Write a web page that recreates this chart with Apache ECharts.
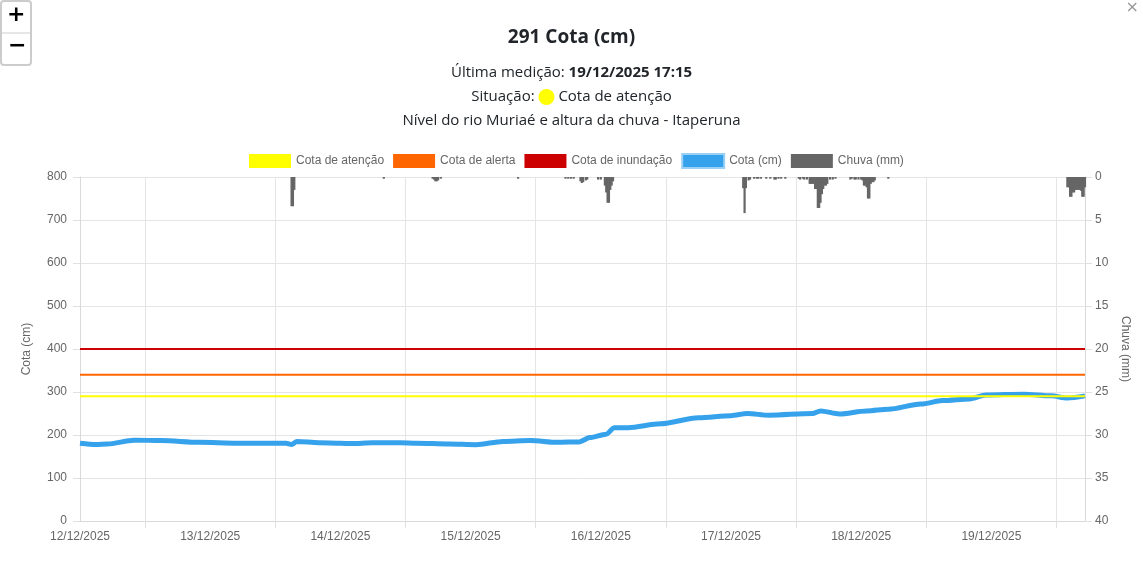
<!DOCTYPE html>
<html>
<head>
<meta charset="utf-8">
<script src="https://cdn.jsdelivr.net/npm/echarts@6/dist/echarts.min.js"></script>
<style>
  html, body { margin: 0; padding: 0; background: #fff; }
  #container { width: 1143px; height: 567px; }
</style>
</head>
<body>
<div id="container"></div>
<script>
// dia em que começa o eixo (12/12/2025 00:00)
var dayLabels = ['12/12/2025', '13/12/2025', '14/12/2025', '15/12/2025',
                 '16/12/2025', '17/12/2025', '18/12/2025', '19/12/2025'];

// cotas de referencia (cm)
var cotaAtencao = 290;
var cotaAlerta = 340;
var cotaInundacao = 400;

// nivel do rio (cm)
var cotaTimes = ['12/12 00:00', '12/12 03:00', '12/12 05:00', '12/12 10:00', '12/12 15:00', '12/12 22:00',
                 '13/12 05:00', '13/12 14:00', '13/12 15:00', '13/12 16:00', '13/12 20:00',
                 '14/12 00:00', '14/12 02:00', '14/12 06:00', '14/12 11:00', '14/12 14:00', '14/12 20:00',
                 '15/12 01:00', '15/12 06:00', '15/12 11:00', '15/12 16:00', '15/12 20:00', '15/12 22:00',
                 '16/12 01:00', '16/12 02:30', '16/12 05:00', '16/12 11:00', '16/12 18:00',
                 '17/12 00:00', '17/12 03:00', '17/12 07:00', '17/12 15:00', '17/12 16:30', '17/12 20:00',
                 '18/12 01:00', '18/12 05:00', '18/12 11:00', '18/12 15:00', '18/12 20:00', '18/12 23:00',
                 '19/12 06:00', '19/12 11:00', '19/12 14:00', '19/12 17:15'];
var cotaValues = [181, 178, 179, 188, 187, 183,
                  181, 181, 178, 185, 182,
                  181, 180, 182, 182, 181, 179,
                  177.5, 185, 187, 183, 184, 194,
                  202, 217, 217, 226, 240,
                  245, 250, 246, 250, 256, 249,
                  256, 260, 272, 280, 284, 293,
                  295, 291, 286, 291];

// chuva (mm)
var chuvaTimes = ['13/12 15:00', '13/12 15:15', '13/12 15:30',
                  '14/12 08:00', '14/12 17:00', '14/12 17:15', '14/12 17:30', '14/12 17:45', '14/12 18:00', '14/12 18:30',
                  '15/12 08:45', '15/12 17:30', '15/12 18:00', '15/12 18:30', '15/12 19:00',
                  '15/12 20:15', '15/12 20:30', '15/12 20:45', '15/12 21:15', '15/12 21:30', '15/12 23:30',
                  '16/12 00:00', '16/12 00:45', '16/12 01:00', '16/12 01:15', '16/12 01:30', '16/12 01:45', '16/12 02:00', '16/12 02:15',
                  '17/12 02:15', '17/12 02:30', '17/12 02:45', '17/12 03:15', '17/12 03:30', '17/12 04:15', '17/12 04:45',
                  '17/12 05:00', '17/12 05:30', '17/12 06:30', '17/12 07:15', '17/12 08:00', '17/12 08:15', '17/12 08:45',
                  '17/12 09:15', '17/12 10:00',
                  '17/12 12:30', '17/12 12:45', '17/12 13:15', '17/12 13:30', '17/12 14:00',
                  '17/12 14:30', '17/12 14:45', '17/12 15:00', '17/12 15:15', '17/12 15:30', '17/12 15:45', '17/12 16:00',
                  '17/12 16:15', '17/12 16:30', '17/12 16:45', '17/12 17:00', '17/12 17:15', '17/12 17:30', '17/12 17:45',
                  '17/12 18:15', '17/12 18:45', '17/12 19:15',
                  '17/12 22:00', '17/12 22:15', '17/12 22:45', '17/12 23:00', '17/12 23:30',
                  '18/12 00:00', '18/12 00:15', '18/12 00:30', '18/12 00:45', '18/12 01:00', '18/12 01:15', '18/12 01:30',
                  '18/12 01:45', '18/12 02:00', '18/12 02:15', '18/12 02:30', '18/12 05:00',
                  '19/12 14:00', '19/12 14:15', '19/12 14:30', '19/12 14:45', '19/12 15:00', '19/12 15:15', '19/12 15:30',
                  '19/12 15:45', '19/12 16:00', '19/12 16:15', '19/12 16:30', '19/12 16:45', '19/12 17:00', '19/12 17:15'];
var chuvaValues = [3.4, 3.4, 1.5,
                   0.2, 0.2, 0.3, 0.5, 0.5, 0.4, 0.2,
                   0.2, 0.2, 0.2, 0.2, 0.2,
                   0.5, 0.7, 0.6, 0.4, 0.3, 0.3,
                   0.3, 1.0, 1.8, 3.0, 3.0, 1.5, 1.0, 0.5,
                   1.3, 4.2, 1.3, 0.4, 0.3, 0.2, 0.2,
                   0.2, 0.2, 0.2, 0.2, 0.3, 0.3, 0.2,
                   0.2, 0.2,
                   0.2, 0.3, 0.2, 0.3, 0.3,
                   0.8, 0.8, 0.8, 0.8, 1.4, 1.4, 3.6,
                   3.6, 3.0, 2.0, 1.4, 1.0, 1.0, 0.8,
                   0.3, 0.3, 0.2,
                   0.3, 0.2, 0.3, 0.3, 0.3,
                   0.3, 0.4, 1.0, 1.0, 1.2, 2.5, 2.5,
                   0.8, 0.6, 0.6, 0.4, 0.2,
                   1.2, 1.2, 2.3, 2.3, 1.8, 1.8, 1.5,
                   1.5, 1.5, 1.5, 1.6, 2.3, 2.3, 1.2];

// 'dd/12 hh:mm' -> horas desde 12/12 00:00
function horas(s) {
    var p = s.split(' ');
    var dia = parseInt(p[0].split('/')[0], 10);
    var hm = p[1].split(':');
    return (dia - 12) * 24 + parseInt(hm[0], 10) + parseInt(hm[1], 10) / 60;
}

var fim = horas(cotaTimes[cotaTimes.length - 1]);
var labelHoras = dayLabels.map(function (d, i) { return i * 24; });
var tickHoras = dayLabels.map(function (d, i) { return i * 24 + 12; }).filter(function (h) { return h <= fim; });

var cotaData = cotaTimes.map(function (t, i) { return [horas(t), cotaValues[i]]; });
var chuvaData = chuvaTimes.map(function (t, i) { return [horas(t), chuvaValues[i]]; });

var dom = document.getElementById('container');
var myChart = echarts.init(dom);
var option = {
    animation: false,
    title: [{
        text: '291 Cota (cm)',
        left: 'center', top: 23,
        textStyle: { fontFamily: 'Open Sans', fontSize: 19, fontWeight: 'bold', color: '#212529' }
    }, {
        text: '{a|Última medição: }{b|19/12/2025 17:15}',
        left: 'center', top: 60,
        textStyle: {
            fontWeight: 'normal',
            rich: {
                a: { fontFamily: 'Open Sans', fontSize: 15, fontWeight: 'normal', color: '#212529' },
                b: { fontFamily: 'Open Sans', fontSize: 15, fontWeight: 'bold', color: '#212529' }
            }
        }
    }, {
        text: '{a|Situação: }{dot|}{a| Cota de atenção}',
        left: 'center', top: 84,
        textStyle: {
            fontWeight: 'normal',
            rich: {
                a: { fontFamily: 'Open Sans', fontSize: 15, fontWeight: 'normal', color: '#212529' },
                dot: { width: 16, height: 16, borderRadius: 8, backgroundColor: '#ffff00' }
            }
        }
    }, {
        text: 'Nível do rio Muriaé e altura da chuva - Itaperuna',
        left: 'center', top: 108,
        textStyle: { fontFamily: 'Open Sans', fontSize: 15, fontWeight: 'normal', color: '#212529' }
    }],
    graphic: [
        { type: 'rect', left: 0, top: 0, shape: { width: 30, height: 64, r: 3 },
          style: { fill: '#fff', stroke: '#ccc', lineWidth: 2 } },
        { type: 'line', shape: { x1: 1, y1: 33, x2: 30, y2: 33 }, style: { stroke: '#ccc', lineWidth: 1 } },
        { type: 'text', left: 7, top: 4, style: { text: '+', font: 'bold 22px "DejaVu Sans"', fill: '#000' } },
        { type: 'text', left: 8, top: 35, style: { text: '−', font: 'bold 22px "DejaVu Sans"', fill: '#000' } },
        { type: 'text', right: 4, top: 0, style: { text: '×', font: '16px "DejaVu Sans"', fill: '#999' } }
    ],
    legend: {
        top: 148, left: 244,
        itemWidth: 42, itemHeight: 14, itemGap: 9,
        icon: 'rect',
        textStyle: { fontFamily: 'Liberation Sans', fontSize: 12, color: '#666' },
        data: ['Cota de atenção', 'Cota de alerta', 'Cota de inundação', 'Cota (cm)', 'Chuva (mm)']
    },
    grid: { left: 80, right: 58, top: 177, bottom: 46 },
    xAxis: {
        type: 'value',
        min: 0, max: fim,
        axisLine: { show: true, lineStyle: { color: '#d9d9d9' } },
        axisTick: { show: true, length: 7, customValues: tickHoras, lineStyle: { color: '#e0e0e0' } },
        axisLabel: {
            customValues: labelHoras,
            margin: 10,
            fontFamily: 'Liberation Sans', fontSize: 12, color: '#666',
            formatter: function (v) { return dayLabels[Math.round(v / 24)] || ''; }
        },
        splitLine: { show: true, lineStyle: { color: '#e5e5e5' } }
    },
    yAxis: [{
        type: 'value',
        min: 0, max: 800, interval: 100,
        name: 'Cota (cm)', nameLocation: 'middle', nameGap: 47,
        nameTextStyle: { fontFamily: 'Liberation Sans', fontSize: 12, color: '#666' },
        axisLine: { show: true, lineStyle: { color: '#d9d9d9' } },
        axisTick: { show: true, length: 7, lineStyle: { color: '#e0e0e0' } },
        axisLabel: { margin: 13, fontFamily: 'Liberation Sans', fontSize: 12, color: '#666' },
        splitLine: { show: true, lineStyle: { color: '#e5e5e5' } }
    }, {
        type: 'value',
        min: 0, max: 40, interval: 5, inverse: true,
        position: 'right',
        name: 'Chuva (mm)', nameLocation: 'middle', nameGap: 34, nameRotate: -90,
        nameTextStyle: { fontFamily: 'Liberation Sans', fontSize: 12, color: '#666' },
        axisLine: { show: true, lineStyle: { color: '#d9d9d9' } },
        axisTick: { show: true, length: 7, lineStyle: { color: '#e0e0e0' } },
        axisLabel: { margin: 10, fontFamily: 'Liberation Sans', fontSize: 12, color: '#666' },
        splitLine: { show: false }
    }],
    series: [{
        name: 'Cota de atenção', type: 'line', yAxisIndex: 0,
        data: [[0, cotaAtencao], [fim, cotaAtencao]],
        showSymbol: false, itemStyle: { color: '#ffff00' },
        lineStyle: { color: '#ffff00', width: 2 }, z: 3
    }, {
        name: 'Cota de alerta', type: 'line', yAxisIndex: 0,
        data: [[0, cotaAlerta], [fim, cotaAlerta]],
        showSymbol: false, itemStyle: { color: '#ff6600' },
        lineStyle: { color: '#ff6600', width: 2 }, z: 3
    }, {
        name: 'Cota de inundação', type: 'line', yAxisIndex: 0,
        data: [[0, cotaInundacao], [fim, cotaInundacao]],
        showSymbol: false, itemStyle: { color: '#cc0000' },
        lineStyle: { color: '#cc0000', width: 2 }, z: 3
    }, {
        name: 'Cota (cm)', type: 'line', yAxisIndex: 0,
        data: cotaData,
        showSymbol: false, smooth: 0.3, smoothMonotone: 'x',
        itemStyle: { color: '#36a2eb', borderColor: '#9ad0f5', borderWidth: 1 },
        lineStyle: { color: '#36a2eb', width: 5 }, z: 2
    }, {
        name: 'Chuva (mm)', type: 'bar', yAxisIndex: 1,
        data: chuvaData,
        barWidth: 2.2,
        itemStyle: { color: '#666666' }, z: 1
    }]
};

if (option && typeof option === "object") {
    myChart.setOption(option, true);
}
</script>
</body>
</html>
